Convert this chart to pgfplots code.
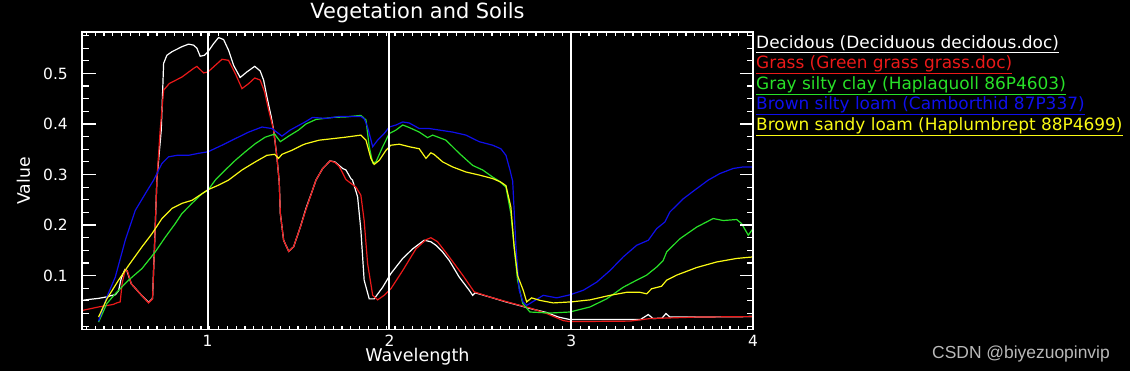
\documentclass[border=0pt]{standalone}
\usepackage{fontspec}
\setmainfont{DejaVu Sans}
\newfontfamily\wmfont{Liberation Sans}
\usepackage{pgfplots}
\pgfplotsset{compat=1.18}
\definecolor{cred}{RGB}{235,25,25}
\definecolor{cgreen}{RGB}{40,225,40}
\definecolor{cblue}{RGB}{15,15,235}
\definecolor{cyellow}{RGB}{250,250,20}
\definecolor{wm}{RGB}{185,185,185}
\begin{document}
\begin{tikzpicture}[x=1bp,y=1bp]
\path[use as bounding box, fill=black] (0,0) rectangle (1130,371);
\begin{axis}[
  at={(82bp,41.3bp)}, anchor=south west,
  scale only axis, width=671bp, height=297.7bp,
  xmin=0.309, xmax=4.0, ymin=-0.007, ymax=0.582,
  axis on top,
  axis line style={white, line width=1.5bp},
  /pgf/number format/assume math mode=true,
  xtick={1,2,3,4}, xticklabels={1,2,3,4},
  ytick={0.1,0.2,0.3,0.4,0.5}, yticklabels={0.1,0.2,0.3,0.4,0.5},
  minor xtick={0.333,0.3815,...,3.98},
  minor ytick={0,0.025,...,0.58},
  tick align=inside,
  tick style={white, line width=1.2bp},
  major tick length=13.5bp, minor tick length=6.5bp,
  xtick style={/pgfplots/major tick length=4bp,/pgfplots/minor tick length=4bp},
  xmajorgrids, major x grid style={white, line width=2bp},
  ticklabel style={text=white, font=\fontsize{15.5}{18}\selectfont},
  xticklabel style={anchor=base, inner sep=0pt, yshift=-17bp},
  yticklabel style={anchor=east, inner sep=0pt, xshift=-14bp},
  title={Vegetation and Soils},
  title style={at={(axis description cs:0.5,1)}, anchor=base, yshift=8bp, text=white, font=\fontsize{21}{25}\selectfont},
  xlabel={Wavelength},
  xlabel style={at={(axis description cs:0.5,0)}, anchor=base, yshift=-32bp, text=white, font=\fontsize{17.6}{21}\selectfont},
  ylabel={Value},
  ylabel style={at={(axis description cs:-0.0775,0.5)}, anchor=base, text=white, font=\fontsize{17.3}{20}\selectfont},
  legend image code/.code={},
  legend cell align=left,
  legend style={at={(axis description cs:1,1)}, anchor=north west, xshift=3bp, yshift=-4bp,
    draw=none, fill=none, text=white, inner sep=0pt, row sep=2.5bp,
    font=\fontsize{17}{20}\selectfont,
    nodes={inner sep=0pt, text height=12bp, text depth=6bp}},
  every axis plot/.append style={line width=1.2bp},
]
\addplot[white] coordinates {
(0.309,0.051) (0.35,0.053) (0.40,0.055) (0.446,0.058) (0.474,0.061) (0.492,0.062) (0.51,0.07) (0.525,0.095) (0.545,0.112) (0.556,0.110) (0.58,0.084) (0.629,0.064) (0.675,0.047) (0.697,0.055) (0.708,0.16) (0.721,0.29) (0.745,0.388) (0.758,0.52) (0.776,0.536) (0.804,0.543) (0.859,0.553) (0.895,0.558) (0.923,0.556) (0.941,0.55) (0.959,0.534) (0.983,0.536) (1.002,0.543) (1.033,0.559) (1.06,0.571) (1.088,0.567) (1.115,0.546) (1.143,0.516) (1.179,0.492) (1.216,0.503) (1.259,0.514) (1.289,0.505) (1.308,0.487) (1.326,0.454) (1.35,0.414) (1.363,0.388) (1.381,0.335) (1.394,0.285) (1.40,0.223) (1.418,0.17) (1.446,0.148) (1.473,0.157) (1.51,0.196) (1.541,0.233) (1.577,0.269) (1.596,0.289) (1.633,0.312) (1.674,0.327) (1.70,0.325) (1.743,0.312) (1.761,0.309) (1.788,0.292) (1.797,0.289) (1.825,0.256) (1.843,0.19) (1.861,0.091) (1.889,0.054) (1.916,0.054) (1.963,0.077) (2.008,0.104) (2.073,0.134) (2.128,0.153) (2.191,0.17) (2.228,0.167) (2.256,0.16) (2.29,0.148) (2.329,0.13) (2.384,0.097) (2.439,0.071) (2.458,0.061) (2.472,0.066) (2.549,0.058) (2.641,0.048) (2.714,0.041) (2.773,0.035) (2.865,0.027) (2.93,0.018) (2.993,0.013) (3.323,0.013) (3.38,0.013) (3.424,0.023) (3.45,0.015) (3.50,0.016) (3.521,0.025) (3.543,0.018) (3.69,0.018) (4.0,0.019)
};
\addlegendentry{\underline{Decidous (Deciduous decidous.doc)}}
\addplot[cred] coordinates {
(0.309,0.031) (0.40,0.038) (0.481,0.043) (0.50,0.046) (0.519,0.048) (0.53,0.085) (0.547,0.112) (0.56,0.108) (0.58,0.084) (0.629,0.064) (0.675,0.046) (0.697,0.054) (0.708,0.157) (0.721,0.289) (0.739,0.388) (0.758,0.467) (0.789,0.48) (0.859,0.493) (0.923,0.51) (0.941,0.514) (0.978,0.501) (1.002,0.503) (1.042,0.516) (1.079,0.528) (1.115,0.526) (1.152,0.50) (1.189,0.47) (1.226,0.48) (1.259,0.491) (1.289,0.487) (1.313,0.464) (1.336,0.427) (1.363,0.388) (1.381,0.335) (1.394,0.285) (1.40,0.223) (1.418,0.17) (1.446,0.148) (1.473,0.157) (1.51,0.196) (1.541,0.231) (1.577,0.269) (1.596,0.289) (1.633,0.312) (1.674,0.327) (1.70,0.324) (1.724,0.316) (1.761,0.29) (1.816,0.275) (1.843,0.259) (1.861,0.209) (1.88,0.124) (1.908,0.061) (1.935,0.052) (1.971,0.061) (2.008,0.074) (2.073,0.11) (2.146,0.153) (2.201,0.171) (2.228,0.175) (2.265,0.167) (2.329,0.137) (2.403,0.101) (2.466,0.068) (2.549,0.058) (2.678,0.045) (2.773,0.036) (2.865,0.025) (2.956,0.011) (2.993,0.009) (3.323,0.01) (3.433,0.015) (3.69,0.018) (4.0,0.019)
};
\addlegendentry{\textcolor{cred}{\underline{Grass (Green grass grass.doc)}}}
\addplot[cgreen] coordinates {
(0.40,0.008) (0.446,0.045) (0.492,0.064) (0.565,0.091) (0.639,0.114) (0.712,0.147) (0.767,0.176) (0.822,0.203) (0.859,0.223) (0.914,0.243) (0.969,0.262) (1.002,0.269) (1.042,0.289) (1.097,0.309) (1.152,0.328) (1.207,0.345) (1.262,0.361) (1.317,0.374) (1.369,0.38) (1.40,0.365) (1.446,0.376) (1.50,0.388) (1.541,0.400) (1.596,0.409) (1.688,0.413) (1.761,0.414) (1.843,0.417) (1.871,0.408) (1.889,0.355) (1.908,0.323) (1.926,0.325) (1.963,0.355) (1.999,0.381) (2.036,0.388) (2.073,0.398) (2.109,0.393) (2.164,0.384) (2.21,0.373) (2.238,0.378) (2.311,0.368) (2.384,0.342) (2.458,0.318) (2.513,0.309) (2.568,0.295) (2.604,0.287) (2.641,0.275) (2.668,0.223) (2.686,0.157) (2.705,0.091) (2.733,0.045) (2.773,0.028) (2.883,0.026) (2.993,0.028) (3.103,0.038) (3.195,0.054) (3.286,0.077) (3.36,0.091) (3.415,0.101) (3.47,0.117) (3.506,0.13) (3.525,0.147) (3.598,0.173) (3.69,0.196) (3.781,0.213) (3.836,0.209) (3.91,0.211) (3.937,0.203) (3.974,0.18) (4.0,0.193)
};
\addlegendentry{\textcolor{cgreen}{\underline{Gray silty clay (Haplaquoll 86P4603)}}}
\addplot[cblue] coordinates {
(0.40,0.010) (0.446,0.058) (0.492,0.097) (0.547,0.17) (0.602,0.229) (0.657,0.262) (0.703,0.289) (0.749,0.322) (0.785,0.335) (0.831,0.338) (0.895,0.338) (0.95,0.342) (1.002,0.345) (1.079,0.358) (1.152,0.371) (1.226,0.384) (1.299,0.394) (1.354,0.391) (1.409,0.376) (1.454,0.388) (1.541,0.405) (1.577,0.413) (1.651,0.411) (1.724,0.415) (1.797,0.415) (1.843,0.415) (1.862,0.41) (1.88,0.394) (1.908,0.355) (1.935,0.368) (1.971,0.381) (1.999,0.394) (2.036,0.398) (2.073,0.404) (2.109,0.402) (2.164,0.391) (2.219,0.391) (2.274,0.388) (2.348,0.384) (2.421,0.378) (2.494,0.365) (2.568,0.358) (2.613,0.351) (2.641,0.338) (2.663,0.309) (2.678,0.287) (2.696,0.157) (2.714,0.071) (2.735,0.048) (2.755,0.041) (2.846,0.061) (2.92,0.056) (2.993,0.062) (3.066,0.071) (3.14,0.087) (3.213,0.11) (3.286,0.137) (3.36,0.16) (3.424,0.17) (3.47,0.193) (3.515,0.206) (3.543,0.226) (3.616,0.252) (3.69,0.272) (3.754,0.289) (3.818,0.302) (3.891,0.312) (3.946,0.315) (4.0,0.315)
};
\addlegendentry{\textcolor{cblue}{\underline{Brown silty loam (Camborthid 87P337)}}}
\addplot[cyellow] coordinates {
(0.40,0.018) (0.446,0.054) (0.51,0.091) (0.565,0.12) (0.639,0.157) (0.694,0.183) (0.749,0.213) (0.804,0.233) (0.859,0.243) (0.914,0.249) (0.969,0.262) (1.002,0.27) (1.06,0.279) (1.115,0.289) (1.189,0.309) (1.262,0.325) (1.326,0.338) (1.369,0.34) (1.39,0.332) (1.409,0.34) (1.464,0.348) (1.519,0.358) (1.541,0.361) (1.614,0.368) (1.688,0.371) (1.761,0.374) (1.843,0.378) (1.871,0.368) (1.898,0.332) (1.916,0.32) (1.944,0.328) (1.981,0.348) (2.008,0.358) (2.054,0.36) (2.109,0.355) (2.164,0.351) (2.201,0.332) (2.228,0.343) (2.245,0.34) (2.293,0.325) (2.348,0.315) (2.421,0.305) (2.494,0.299) (2.568,0.292) (2.613,0.285) (2.641,0.278) (2.668,0.236) (2.686,0.157) (2.705,0.10) (2.736,0.071) (2.755,0.048) (2.782,0.056) (2.828,0.051) (2.901,0.046) (2.998,0.048) (3.103,0.052) (3.213,0.061) (3.305,0.067) (3.378,0.067) (3.415,0.064) (3.442,0.074) (3.497,0.079) (3.525,0.091) (3.58,0.101) (3.69,0.116) (3.8,0.127) (3.91,0.134) (4.0,0.137)
};
\addlegendentry{\textcolor{cyellow}{\underline{Brown sandy loam (Haplumbrept 88P4699)}}}
\end{axis}
\node[anchor=base east, text=wm, inner sep=0pt, font=\wmfont\fontsize{17.5}{20}\selectfont] at (1110,13) {CSDN @biyezuopinvip};
\end{tikzpicture}
\end{document}
